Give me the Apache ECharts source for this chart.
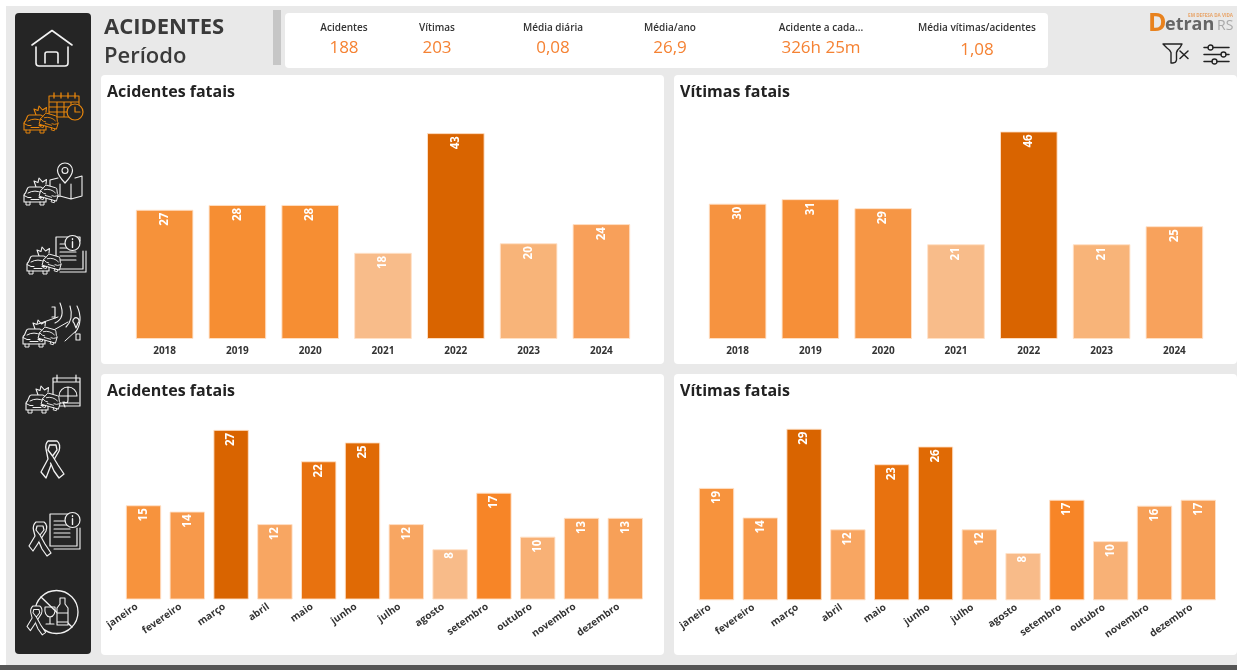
<!DOCTYPE html>
<html lang="pt-BR">
<head>
<meta charset="utf-8">
<title>Acidentes - Período</title>
<style>
html,body{margin:0;padding:0;background:#fff;overflow:hidden}
#chart{width:1237px;height:670px}
</style>
<script src="https://cdn.jsdelivr.net/npm/echarts@6/dist/echarts.min.js"></script>
</head>
<body>
<div id="chart"></div>
<script>
// ---- data ----
const years = ['2018','2019','2020','2021','2022','2023','2024'];
const months = ['janeiro','fevereiro','março','abril','maio','junho','julho','agosto','setembro','outubro','novembro','dezembro'];
const accidentsByYear = [27,28,28,18,43,20,24];
const victimsByYear = [30,31,29,21,46,21,25];
const accidentsByMonth = [15,14,27,12,22,25,12,8,17,10,13,13];
const victimsByMonth = [19,14,29,12,23,26,12,8,17,10,16,17];
const kpiLabels = ['Acidentes','Vítimas','Média diária','Média/ano','Acidente a cada...','Média vítimas/acidentes'];
const kpiValues = ['188','203','0,08','26,9','326h 25m','1,08'];

// ---- per-bar colours (separate from the values) ----
const colorsAccYear = ['#F6923A','#F68E33','#F68E33','#F8BC8A','#D96400','#F8B479','#F8A05A'];
const colorsVicYear = ['#F69340','#F68F38','#F69645','#F8BC8A','#D96400','#F8B479','#F8A25C'];
const colorsAccMonth = ['#F7933D','#F7994B','#D96400','#F8A662','#E8720F','#E06A05','#F8A662','#F8BB89','#F78527','#F8B176','#F7A058','#F7A058'];
const colorsVicMonth = ['#F7933D','#F7994B','#D96400','#F8A662','#E8720F','#E06A05','#F8A662','#F8BB89','#F78527','#F8B176','#F7A058','#F7A058'];

const FONT = '"Open Sans", "Noto Sans", sans-serif';
const chart = echarts.init(document.getElementById('chart'), null, {renderer:'canvas'});

function card(x,y,w,h){
  return {type:'rect',z:0,shape:{x,y,width:w,height:h,r:4},style:{fill:'#fff'}};
}
function txt(text,x,y,size,color,weight,align){
  return {type:'text',z:6,x,y,style:{text,fill:color,font:`${weight||400} ${size}px ${FONT}`,textAlign:align||'center',textVerticalAlign:'middle'}};
}
// the graphic component has no pathData element, so each icon stroke is registered as a shape
const shapeNames = {};
function stroke(d,color,lw,fill){
  if(!shapeNames[d]){
    const name = 'iconStroke' + Object.keys(shapeNames).length;
    echarts.graphic.registerShape(name, echarts.graphic.extendPath(d,{}));
    shapeNames[d] = name;
  }
  return {type:shapeNames[d],z:6,style:{stroke:color,lineWidth:lw||1.2,fill:fill||'none',lineJoin:'round',lineCap:'round'}};
}
function place(x,y,children,scale,rotation){
  return {type:'group',z:6,x,y,scaleX:scale||1,scaleY:scale||1,rotation:rotation||0,children};
}

// ---- icon pieces ----
const SB = '#252525';
function car(x,y,c,rot,s){
  return place(x,y,[
    stroke('M1 16V9.5Q1 8 2.5 7L4.5 2.2Q5 1 6.5 1H17.5Q19 1 19.5 2.2L21.5 7Q23 8 23 9.5V16Z',c,1.1,SB),
    stroke('M5 7Q12 3 19 7M1 9.5L5 11.5H8M23 9.5L19 11.5H16M8 13.5H16M3 16V19H7V16M17 16V19H21V16',c,1)
  ],s||1,rot||0);
}
function crash(c,dy){
  return place(0,dy||0,[
    stroke('M13 23L11 17L15 18.5L16 14L19.5 18L23.5 15.5L23 20',c,1.1),
    car(0,22,c),
    car(19,19,c,-0.28,0.82)
  ]);
}
function ribbon(x,y,c,s){
  return place(x,y,[
    stroke('M7 0H15Q19 3 17 9L8 23L4 29L0 24L6 14L4.5 8Q3.5 3 7 0Z',c,1.2,SB),
    stroke('M8 4H14L15 8L11 13L7 8ZM11 13L16 22L22 31L18 34L13 27L10 20',c,1.2,SB)
  ],s||1);
}
function doc(x,y,c){
  return place(x,y,[
    stroke('M6 0H30V4M33 14V32H6V0',c,1.2,SB),
    stroke('M10 7H24M10 11H24M10 15H26M10 19H26M10 23H26M36 14V35H10',c,1.1)
  ]);
}
function info(x,y,c){
  return place(x,y,[
    stroke('M15 8A7.5 7.5 0 1 1 0 8A7.5 7.5 0 1 1 15 8Z',c,1.2,SB),
    stroke('M7.5 3.6V4.6M7.5 6.8V12.4',c,1.4)
  ]);
}
const W = '#F2F2F2';
const O = '#E8860C';

const iconHome = place(31,30,[
  stroke('M1 15L21 0.5L41 15',W,1.6),
  stroke('M5 17V33Q5 36 8 36H34Q37 36 37 33V17',W,1.6),
  stroke('M14 33V24Q14 22 16 22H25Q27 22 27 24V33',W,1.6)
]);
const iconCalendar = place(23,92,[
  place(26,1,[
    stroke('M0 3H30V24H0ZM0 9H30M8 9V24M15 9V24M22 9V24M0 14H30M0 19H30',O,1.1),
    stroke('M5 0V5M12 0V5M19 0V5M26 0V5',O,1.3),
    stroke('M34 19A8 8 0 1 1 18 19A8 8 0 1 1 34 19Z',O,1.2,SB),
    stroke('M26 14V19H31',O,1.2)
  ]),
  crash(O,0)
]);
const iconMap = place(23,163,[
  place(27,0,[
    stroke('M8 15L0 17V36L10 33L21 36L32 33V13L25 15M10 21V33M21 21V36',W,1.1),
    stroke('M15 0A7.5 7.5 0 0 1 22.5 7.5Q22.5 12 15 20Q7.5 12 7.5 7.5A7.5 7.5 0 0 1 15 0Z',W,1.2,SB),
    stroke('M18 7.5A3 3 0 1 1 12 7.5A3 3 0 1 1 18 7.5Z',W,1.1)
  ]),
  crash(W,1)
]);
const iconDoc = place(26,235,[doc(24,2,W),info(39,0,W),crash(W,-2)]);
const iconRoad = place(22,303,[
  stroke('M33 20Q44 15 38 0M44 24Q52 16 48 3M53 30Q62 18 55 3',W,1.1),
  stroke('M30 4H33V15M33 4V14H30',W,1.2),
  stroke('M16 21L36 14M30 28L46 19M43 38L55 27',W,1),
  stroke('M52 20A3 3 0 1 1 56 20L54 25Z',W,1.1),
  stroke('M54 31H58V37H54Z',W,1.1),
  crash(W,3)
]);
const iconCal2 = place(25,375,[
  stroke('M28 3H55V31H28ZM32 0V6M51 0V6M28 7H55',W,1.2),
  stroke('M34 21A9 9 0 0 1 52 21H34M43 12V25Q43 29 39 27M38 27L40 32M34 28H54',W,1.1),
  crash(W,-3)
]);
const iconRibbon = place(41,440,[
  stroke('M7 1H16Q20 4 18 11L10 25L5 38L0 32L7 19L5 9Q4 4 7 1Z',W,1.3,SB),
  stroke('M8.5 5H15L16 10L11.5 16L7 10ZM11.5 16L17 25L23 34L18 38L13 31L9.5 23',W,1.3,SB)
]);
const iconRibDoc = place(28,512,[doc(16,2,W),info(37,0,W),ribbon(1,10,W,1)]);
const iconNoDrink = place(27,591,[
  stroke('M51 21A21.5 21.5 0 1 1 8 21A21.5 21.5 0 1 1 51 21Z',W,1.3),
  stroke('M14 6L45 36',W,1.3),
  stroke('M18 16H28Q29 25 23 26V33M19 33H27M18 16Q17 25 23 26',W,1.1),
  stroke('M33 7H38V13L41 17V34H30V17L33 13ZM30 22H41V31H30Z',W,1.1,SB),
  ribbon(0,15,W,0.85)
]);

// ---- logo and action icons ----
const logo = [
  {type:'text',z:6,x:1148,y:24,style:{text:'D',fill:'#E8821E',font:`700 25px ${FONT}`,textAlign:'left',textVerticalAlign:'middle'}},
  {type:'text',z:6,x:1165,y:25,style:{text:'etran',fill:'#666',font:`700 18px ${FONT}`,textAlign:'left',textVerticalAlign:'middle'}},
  {type:'text',z:6,x:1217,y:26,style:{text:'RS',fill:'#A8A8A8',font:`400 14px ${FONT}`,textAlign:'left',textVerticalAlign:'middle'}},
  {type:'text',z:6,x:1233,y:16,style:{text:'EM DEFESA DA VIDA',fill:'#E8A468',font:`700 4.6px ${FONT}`,textAlign:'right',textVerticalAlign:'middle'}}
];
const actionIcons = [
  place(1162,43,[
    stroke('M1 1H20L18 4.5Q15 7 14.5 9.5V17Q14 20 11 20H9V9.5Q8 7 5 5Z','#222',1.4),
    stroke('M18 8L26 15.5M26 8L18 15.5','#222',1.5)
  ]),
  place(1204,43.5,[
    stroke('M0 4H4M9 4H25M0 11H17M22 11H25M0 18H8M13 18H25','#222',1.5),
    stroke('M9 4A2.5 2.5 0 1 1 4 4A2.5 2.5 0 1 1 9 4ZM22 11A2.5 2.5 0 1 1 17 11A2.5 2.5 0 1 1 22 11ZM13 18A2.5 2.5 0 1 1 8 18A2.5 2.5 0 1 1 13 18Z','#222',1.3)
  ])
];

const kpiCenters = [344,437,553,670,821,977];
const kpiTexts = kpiLabels.flatMap((l,i)=>[
  txt(l,kpiCenters[i],28,10,'#333',600),
  txt(kpiValues[i],kpiCenters[i],i===5?50:48,17,'#F58233',400)
]);

const elements = [
  {type:'rect',z:0,shape:{x:6,y:6,width:1231,height:659},style:{fill:'#E9E9E9'}},
  {type:'rect',z:0,shape:{x:0,y:665,width:1237,height:5},style:{fill:'#555'}},
  {type:'rect',z:1,shape:{x:15,y:13,width:76,height:641,r:4},style:{fill:SB}},
  {type:'rect',z:1,shape:{x:273,y:10,width:8,height:55},style:{fill:'#C6C6C6'}},
  card(285,13,763,55),
  card(101,75,563,289),card(674,75,563,289),card(101,374,563,281),card(674,374,563,281),
  txt('ACIDENTES',104,28,22,'#3A3A3A',700,'left'),
  txt('Período',104,57,22,'#3A3A3A',600,'left'),
  ...kpiTexts,
  iconHome,iconCalendar,iconMap,iconDoc,iconRoad,iconCal2,iconRibbon,iconRibDoc,iconNoDrink,
  ...logo,...actionIcons
];

// ---- one bar chart per grid ----
const grids = [
  {left:128.2,width:509.6,top:99.6,height:239.4},
  {left:701.2,width:509.6,top:113.4,height:225.6},
  {left:121.6,width:525.6,top:411,height:188.5},
  {left:694.6,width:525.6,top:422.8,height:177.5}
];
const panels = [
  {cats:years, vals:accidentsByYear, cols:colorsAccYear, max:50, w:57.6, rot:0},
  {cats:years, vals:victimsByYear, cols:colorsVicYear, max:50, w:57.6, rot:0},
  {cats:months,vals:accidentsByMonth,cols:colorsAccMonth,max:30, w:35.4, rot:35},
  {cats:months,vals:victimsByMonth, cols:colorsVicMonth, max:30, w:35.4, rot:35}
];
const titleNames = ['Acidentes fatais','Vítimas fatais','Acidentes fatais','Vítimas fatais'];
const titlePos = [[107,84],[680,84],[107,383],[680,383]];

chart.setOption({
  animation:false,
  backgroundColor:'#fff',
  graphic:{elements},
  title:titleNames.map((t,i)=>({
    text:t,left:titlePos[i][0],top:titlePos[i][1],padding:0,z:6,
    textStyle:{fontFamily:FONT,fontSize:16,fontWeight:700,color:'#222'}
  })),
  grid:grids,
  xAxis:panels.map((p,i)=>({
    type:'category',gridIndex:i,data:p.cats,
    axisLine:{show:false},axisTick:{show:false},
    axisLabel:{interval:0,rotate:p.rot,margin:p.rot?1.5:7,padding:p.rot?[0,8,0,0]:0,
      fontFamily:FONT,fontSize:10,fontWeight:700,color:'#333'}
  })),
  yAxis:panels.map((p,i)=>({type:'value',gridIndex:i,min:0,max:p.max,show:false,splitLine:{show:false}})),
  series:panels.map((p,i)=>({
    type:'bar',xAxisIndex:i,yAxisIndex:i,barWidth:p.w,
    data:p.vals.map((v,k)=>({value:v,itemStyle:{color:p.cols[k],borderColor:'rgba(255,225,200,0.9)',borderWidth:1}})),
    label:{show:true,position:'insideTop',distance:4,offset:[1,0],rotate:90,align:'right',verticalAlign:'middle',
      color:'#fff',fontFamily:FONT,fontSize:11.5,fontWeight:700}
  }))
});
</script>
</body>
</html>
